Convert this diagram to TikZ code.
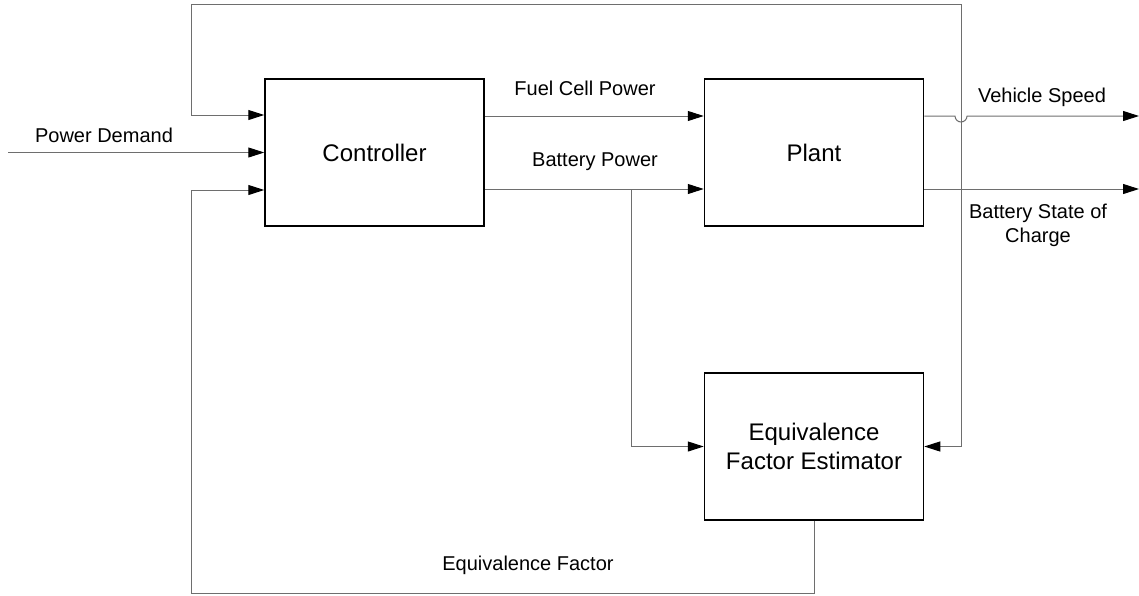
\documentclass[tikz,border=0pt]{standalone}
\usepackage{fontspec}
\setmainfont{Liberation Sans}
\usetikzlibrary{arrows.meta, positioning, calc}
\definecolor{wire}{RGB}{110,110,110}

\begin{document}
\begin{tikzpicture}[x=1pt, y=-1pt,
  block/.style={draw, line width=1.5pt, minimum width=219pt, minimum height=147pt, inner sep=0pt, align=center, font=\fontsize{24}{29}\selectfont},
  sig/.style={draw=wire, line width=1pt, -{Triangle[length=16pt, width=10pt, black]}},
  wire/.style={draw=wire, line width=1pt},
  lbl/.style={font=\fontsize{20}{24}\selectfont, align=center}]
  \useasboundingbox (0,0) rectangle (1139,595);
  % Blocks
  \node[block] (ctrl) at (374.5,152.5) {Controller};
  \node[block] (plant) at (814,152.5) {Plant};
  \node[block] (est) at (814,446.5) {Equivalence\\Factor Estimator};
  % Inputs and outputs
  \coordinate (pd) at (8,152.5);
  \coordinate (vs) at (1139,116);
  \coordinate (soc) at (1139,189);
  \coordinate (j) at (961,189);
  \coordinate (bp) at (631,189);
  \draw[sig] (pd) -- (ctrl.west);
  \draw[sig] (ctrl.east |- 0,116) -- (plant.west |- 0,116);
  \draw[sig] (ctrl.east |- 0,189) -- (plant.west |- 0,189);
  \draw[sig] (plant.east |- vs) -- (955,116) arc[start angle=180, end angle=0, radius=6] -- (vs);
  \draw[sig] (plant.east |- soc) -- (soc);
  % Feedback of state of charge
  \draw[sig] (j) -- (961,4) -- (191,4) -- (191,115) -- (ctrl.west |- 0,115);
  \draw[sig] (j) |- (est.east);
  \draw[sig] (bp) |- (est.west);
  % Equivalence factor loop
  \draw[sig] (est.south) |- (191,593) -- (191,190) -- (ctrl.west |- 0,190);
  % Labels
  \node[lbl] (lpd) at (104,135) {Power Demand};
  \node[lbl] (lfc) at (585,88) {Fuel Cell Power};
  \node[lbl] (lbp) at (595,162) {Battery Power};
  \node[lbl] (lvs) at (1042,97) {Vehicle Speed};
  \node[lbl, font=\fontsize{20}{24}\selectfont] (lsoc) at (1038,225) {Battery State of\\Charge};
  \node[lbl] (lef) at (528,565) {Equivalence Factor};
\end{tikzpicture}
\end{document}
